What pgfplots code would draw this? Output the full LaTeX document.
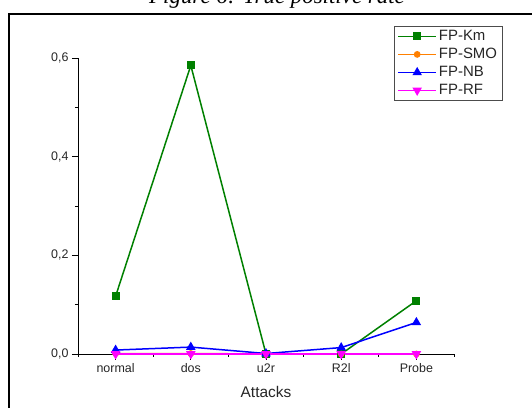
\documentclass[border=0pt]{standalone}
\usepackage{pgfplots}
\pgfplotsset{compat=1.18}
\usepackage{fontspec}
\setmainfont{Liberation Sans}
\newfontfamily\capfont{Liberation Serif}
\definecolor{kmgreen}{RGB}{0,128,0}
\definecolor{smoorange}{RGB}{255,128,0}
\definecolor{nbblue}{RGB}{0,0,255}
\definecolor{rfmag}{RGB}{255,0,255}
\begin{document}
\begin{tikzpicture}
\useasboundingbox (0bp,0bp) rectangle (532bp,408bp);
\node[anchor=base, font=\capfont\itshape\fontsize{23}{23}\selectfont, inner sep=0] at (277bp,404bp) {Figure 6: True positive rate};
\draw[line width=1.8bp] (9bp,-5bp) -- (9bp,394bp) -- (545bp,394bp);
\begin{axis}[
  at={(78bp,54bp)}, anchor=south west,
  width=376bp, height=296bp, scale only axis,
  xmin=-0.5, xmax=4.5, ymin=0, ymax=0.6,
  axis x line*=bottom, axis y line*=left,
  clip=false,
  xtick={0,1,2,3,4},
  xticklabels={normal,dos,u2r,R2l,Probe},
  minor xtick={-0.5,0.5,1.5,2.5,3.5,4.5},
  ytick={0,0.2,0.4,0.6},
  yticklabels={{0,0},{0,2},{0,4},{0,6}},
  minor ytick={0.1,0.3,0.5},
  tick align=outside,
  major tick length=6bp, minor tick length=3bp,
  every tick/.style={black, line width=0.8bp},
  axis line style={line width=0.8bp},
  tick label style={font=\fontsize{12.5}{14}\selectfont, text=black!85},
  xlabel={Attacks},
  xlabel style={font=\fontsize{15.5}{18}\selectfont, text=black!85, at={(axis description cs:0.5,0)}, anchor=center, yshift=-38bp},
  legend style={at={(axis description cs:0.8404,1.108)}, anchor=north west,
    font=\fontsize{15}{18}\selectfont, text=black!85, draw=gray!60!black, line width=0.9bp,
    inner xsep=3bp, inner ysep=2bp, row sep=2.2bp},
  legend cell align=left,
  legend image code/.code={\draw[mark repeat=2,mark phase=2,#1] plot coordinates {(0bp,0bp) (19bp,0bp) (38bp,0bp)};},
]
\addplot[kmgreen, line width=1.5bp, mark=square*, mark size=3.3bp] coordinates {(0,0.117)(1,0.585)(2,0)(3,0)(4,0.108)};
\addlegendentry{FP-Km}
\addplot[smoorange, line width=1.5bp, mark=*, mark size=2.6bp] coordinates {(0,0.001)(1,0.001)(2,0)(3,0)(4,0)};
\addlegendentry{FP-SMO}
\addplot[nbblue, line width=1.5bp, mark=triangle*, mark size=4bp] coordinates {(0,0.008)(1,0.014)(2,0.001)(3,0.013)(4,0.064)};
\addlegendentry{FP-NB}
\addplot[rfmag, line width=1.5bp, mark=triangle*, mark options={rotate=180}, mark size=4bp] coordinates {(0,0)(1,0)(2,0)(3,0)(4,0)};
\addlegendentry{FP-RF}
\end{axis}
\end{tikzpicture}
\end{document}
